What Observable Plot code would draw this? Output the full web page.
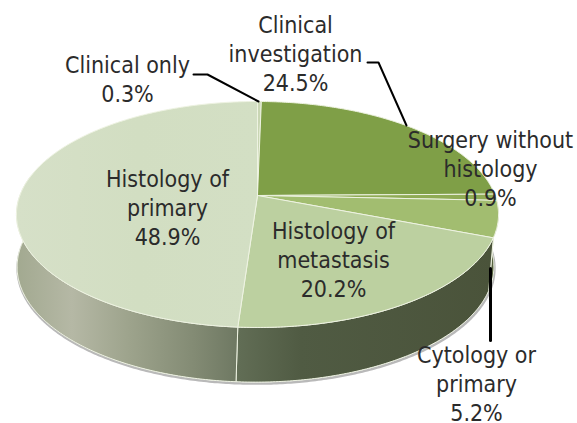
<!DOCTYPE html>
<html><head><meta charset="utf-8">
<script src="https://cdn.jsdelivr.net/npm/d3@7"></script>
<script src="https://cdn.jsdelivr.net/npm/@observablehq/plot@0.6"></script>
<style>html,body{margin:0;padding:0;background:#fff}svg{display:block}</style>
</head><body><div id="chart"></div>
<script>
const categories = ["Clinical only","Clinical investigation","Surgery without histology","Cytology or primary","Histology of metastasis","Histology of primary"];
const shares = [0.3,24.5,0.9,5.2,20.2,48.9];
const topColors = ["#c9d6b4","#7f9f47","#8fab55","#a2bd70","#bcd0a0","url(#topPrimary)"];
const sideColors = ["#5a6644","#4e5a38","#4e5a38","#56613f","url(#sideMeta)","url(#sidePrimary)"];
const labelLines = ["Clinical only\n0.3%","Clinical\ninvestigation\n24.5%","Surgery without\nhistology\n0.9%","Cytology or\nprimary\n5.2%","Histology of\nmetastasis\n20.2%","Histology of\nprimary\n48.9%"];
const labelX = [127,295,490,476,333,167];
const labelY = [78,52,167,382,258,206];
const leaderIds = [0,0,0,1,1,1,2,2];
const leaderX = [193,207,258,367,378,406,490,490];
const leaderY = [74,74,101,62,62,125,268,340];
const leaderWidth = [2,2,3];

const persp = 0.168;
const topRing = {ax:257, ay:195, A:237.6, B:109.8};
const botRing = {ax:255, ay:247, A:235, B:112};
const project = (r, t, scale=1) => {
  const u = Math.sin(t)*scale, v = -Math.cos(t)*scale, w = 1 - persp*v;
  return {x: r.ax + r.A*u/w, y: r.ay + r.B*v/w};
};
const pct = d3.cumsum(shares);
const angle = p => p/100*2*Math.PI;
const arcAngles = (a,b) => {
  const n = Math.max(2, Math.ceil((b-a)/0.01));
  return d3.range(n+1).map(i => a + (b-a)*i/n);
};
const slices = shares.map((s,i)=>({a:angle(i?pct[i-1]:0), b:angle(pct[i])}));

const topFace = s => {
  const pts = [project(topRing,0,0), ...arcAngles(s.a,s.b).map(t=>project(topRing,t))];
  pts.push(pts[0]);
  return pts;
};
const sideLimit = angle(78);
const sideFace = s => {
  const a = Math.max(s.a, angle(24)), b = Math.min(s.b, sideLimit);
  if (b <= a) return [];
  const ts = arcAngles(a,b);
  const pts = [...ts.map(t=>project(topRing,t)), ...ts.slice().reverse().map(t=>project(botRing,t))];
  pts.push(pts[0]);
  return pts;
};
const rimLine = arcAngles(angle(25),angle(76)).map(t=>project(botRing,t));

const defs = () => {
  const ns = "http://www.w3.org/2000/svg";
  const d = document.createElementNS(ns,"defs");
  const grad = (id, stops) => {
    const g = document.createElementNS(ns,"linearGradient");
    g.setAttribute("id",id);
    stops.forEach(([o,c])=>{
      const st = document.createElementNS(ns,"stop");
      st.setAttribute("offset",o); st.setAttribute("stop-color",c);
      g.appendChild(st);
    });
    d.appendChild(g);
  };
  grad("sidePrimary",[[0,"#a2a990"],[0.25,"#b5b8a5"],[0.5,"#9ea48d"],[0.8,"#838b74"],[1,"#6e7862"]]);
  grad("sideMeta",[[0,"#626e56"],[0.25,"#505b43"],[1,"#4a533a"]]);
  grad("topPrimary",[[0,"#d6e0c8"],[0.5,"#d2dec2"],[1,"#d3dfc4"]]);
  const svg = document.createElementNS(ns,"g");
  svg.appendChild(d);
  return svg;
};

const rimColor = "#eef3e2";
const marks = [
  defs,
  Plot.line(rimLine,{x:d=>d.x+0.5,y:d=>d.y+1.5,stroke:"#b9b9b9",strokeWidth:2.5}),
  ...slices.map((s,i)=>Plot.line(sideFace(s),{x:"x",y:"y",fill:sideColors[i],stroke:rimColor,strokeWidth:1})),
  ...slices.map((s,i)=>Plot.line(topFace(s),{x:"x",y:"y",fill:topColors[i],stroke:rimColor,strokeWidth:1})),
  ...d3.range(3).map(k=>{
    const pts = leaderX.map((x,i)=>({x,y:leaderY[i],id:leaderIds[i]})).filter(d=>d.id===k);
    return Plot.line(pts,{x:"x",y:"y",stroke:"#000",strokeWidth:leaderWidth[k]});
  }),
  Plot.text(categories.map((c,i)=>i),{
    x:i=>labelX[i], y:i=>labelY[i], text:i=>labelLines[i],
    fontSize:23, lineHeight:1.26, fill:"#2b2b2b", textAnchor:"middle", lineAnchor:"middle",
    fontFamily:"'DejaVu Sans Condensed', 'DejaVu Sans', sans-serif"
  })
];
const chart = Plot.plot({
  width:577, height:423, margin:0,
  x:{domain:[0,577], range:[0,577], axis:null},
  y:{domain:[0,423], range:[0,423], axis:null},
  style:{background:"#fff"},
  marks
});
document.getElementById("chart").appendChild(chart);
</script></body></html>
